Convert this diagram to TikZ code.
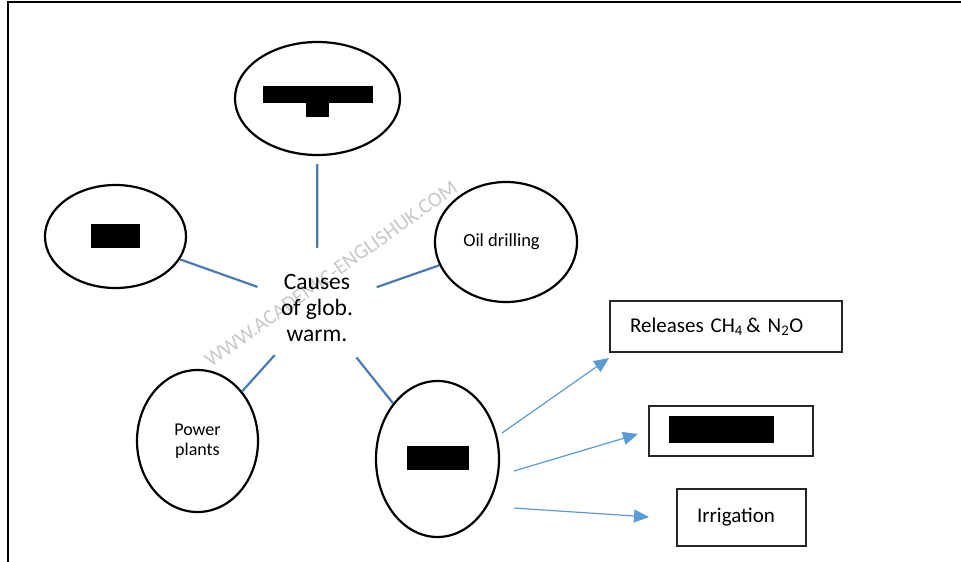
\documentclass[tikz,border=0pt]{standalone}
\usepackage{fontspec}
\setmainfont{Carlito}
\usetikzlibrary{shapes.geometric,arrows.meta}
\definecolor{connblue}{RGB}{74,122,180}
\definecolor{arrblue}{RGB}{91,155,213}
\definecolor{wmgray}{RGB}{200,200,200}
\begin{document}
\begin{tikzpicture}[x=1pt,y=-1pt,
  oval/.style={draw=black, line width=2.2pt, ellipse, inner sep=0pt},
  conn/.style={draw=connblue, line width=2.2pt},
  arr/.style={draw=arrblue, line width=1.2pt, -{Triangle[length=15pt,width=13pt]}},
  boxn/.style={draw=black!85, line width=1.3pt, rectangle, inner ysep=0pt, inner xsep=20pt, align=left, font=\fontsize{21}{25}\selectfont},
  redact/.style={fill=black}
]
\useasboundingbox (0,0) rectangle (961,562);
% frame
\draw[line width=2.4pt] (6.7,2.2) -- (961,2.2);
\draw[line width=2pt] (7.7,2.2) -- (7.7,562);

% watermark
\node[text=wmgray, rotate=35.5, inner sep=0pt, font=\fontsize{21}{24}\selectfont] (wm) at (331,274) {WWW.ACADEMIC-ENGLISHUK.COM};

% ellipses
\node[oval, minimum width=165pt, minimum height=113pt] (top) at (317.5,98.5) {};
\node[oval, minimum width=141pt, minimum height=103pt] (left) at (115.5,236.5) {};
\node[oval, minimum width=142pt, minimum height=120pt, font=\fontsize{18.5}{22}\selectfont] (oil) at (506,242) {\hspace*{-9pt}\raisebox{-2.5pt}{Oil drilling}};
\node[oval, minimum width=121pt, minimum height=142pt, align=center, font=\fontsize{18}{19.5}\selectfont] (power) at (197.5,441) {Power\\plants};
\node[oval, minimum width=123pt, minimum height=156pt] (bottom) at (437.5,459) {};

% centre
\node[circle, minimum size=126pt, inner sep=0pt, align=center, font=\fontsize{23.5}{26}\selectfont] (cause) at (317,308) {Causes\\of glob.\\warm.};

% connectors
\draw[conn, shorten <=-3pt, shorten >=8pt] (cause) -- (top);
\draw[conn] (cause) -- (left);
\draw[conn] (cause) -- (oil);
\draw[conn] (cause) -- (power);
\draw[conn] (cause) -- (bottom);

% redactions
\fill[redact] (263,86) rectangle (373,103);
\fill[redact] (306,103) rectangle (329,117);
\fill[redact] (91,224) rectangle (140,248);
\fill[redact] (407,446) rectangle (469,470);

% boxes
\node[boxn, minimum height=51pt, text width=192pt] (rel) at (726,326.5) {Releases CH\textsubscript{4}\,\& N\textsubscript{2}O};
\node[boxn, minimum height=50pt, text width=124pt] (red) at (731,431) {};
\fill[redact] (669,416) rectangle (774,443);
\node[boxn, minimum height=57pt, text width=89pt] (irr) at (741.5,517.5) {Irrigation};

% arrows
\coordinate (s1) at (502,433); \coordinate (t1) at (609,358);
\coordinate (s2) at (514,471); \coordinate (t2) at (638,434);
\coordinate (s3) at (514,508); \coordinate (t3) at (649,517);
\draw[arr] (s1) -- (t1);
\draw[arr] (s2) -- (t2);
\draw[arr] (s3) -- (t3);
\end{tikzpicture}
\end{document}
